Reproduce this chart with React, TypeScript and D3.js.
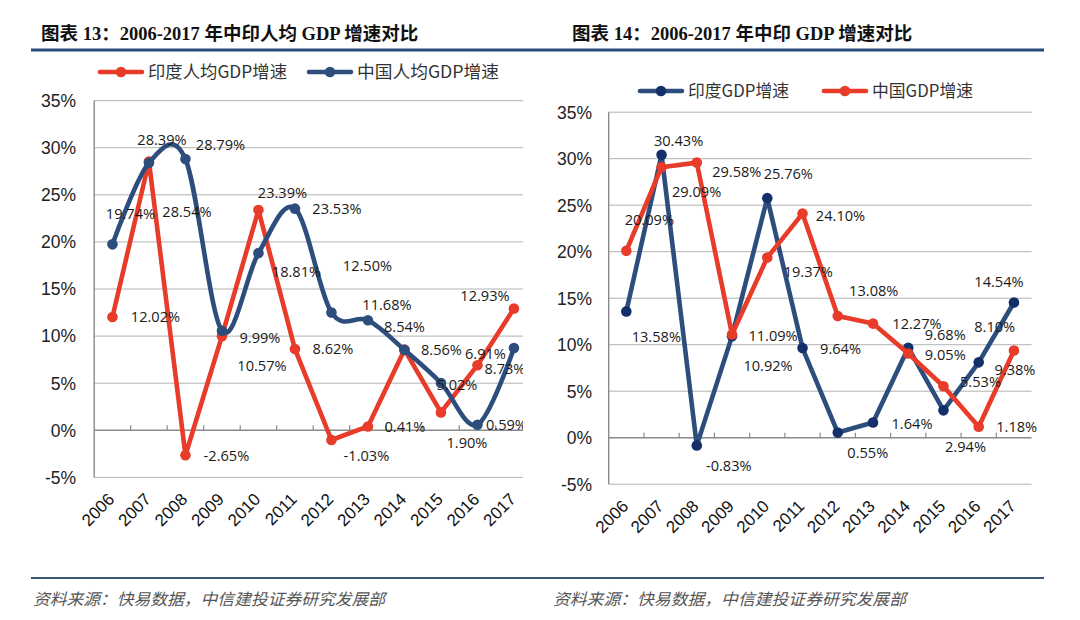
import * as d3 from "d3";
import { useEffect } from "react";

// categories
const years = ["2006", "2007", "2008", "2009", "2010", "2011", "2012", "2013", "2014", "2015", "2016", "2017"];
const yTicks = [35, 30, 25, 20, 15, 10, 5, 0, -5];

// chart 13: per capita GDP growth (%)
const indiaPerCapita = [12.02, 28.54, -2.65, 9.99, 23.39, 8.62, -1.03, 0.41, 8.56, 1.9, 6.91, 12.93];
const chinaPerCapita = [19.74, 28.39, 28.79, 10.57, 18.81, 23.53, 12.5, 11.68, 8.54, 5.02, 0.59, 8.73];

// chart 14: GDP growth (%)
const indiaGdp = [13.58, 30.43, -0.83, 10.92, 25.76, 9.64, 0.55, 1.64, 9.68, 2.94, 8.1, 14.54];
const chinaGdp = [20.09, 29.09, 29.58, 11.09, 19.37, 24.1, 13.08, 12.27, 9.05, 5.53, 1.18, 9.38];

// data label offsets (px) relative to each point, as placed in the original
const offIndiaPC: [number, number][] = [[43, 0], [38, 50], [41, 0], [38, 2], [24, -17], [38, 0], [35, 16], [37, 0], [37, 0], [26, 30], [8, -11], [-29, -13]];
const offChinaPC: [number, number][] = [[18, -31], [13, -23], [35, -14], [40, 35], [38, 19], [42, 0], [36, -47], [19, -16], [0, -23], [16, 2], [29, 0], [-9, 21]];
const offIndiaGdp: [number, number][] = [[30, 25], [17, -14], [32, 20], [36, 30], [21, -24], [38, 1], [30, 20], [39, 1], [37, -13], [22, 36], [16, -36], [-15, -21]];
const offChinaGdp: [number, number][] = [[23, -31], [35, 25], [40, 9], [41, 1], [41, 14], [38, 2], [36, -25], [44, 0], [37, 1], [37, -5], [38, 0], [1, 19]];

const RED = "#e83b2a";
const BLUE = "#2d4e7d";
const NAVY = "#14306b";
const SOURCE = "资料来源：快易数据，中信建投证券研究发展部";

interface Series {
  values: number[];
  color: string;
  marker: string;
  smooth: boolean;
  offsets: [number, number][];
}

interface PanelProps {
  x0: number;
  band: number;
  top: number;
  bottom: number;
  clipRight: number;
  labelRight: number;
  series: Series[];
  id: string;
}

function Panel({ x0, band, top, bottom, clipRight, labelRight, series, id }: PanelProps) {
  const x = d3.scaleBand().domain(years).range([x0, x0 + band * years.length]);
  const y = d3.scaleLinear().domain([-5, 35]).range([bottom, top]);
  const cx = (i: number) => (x(years[i]) as number) + x.bandwidth() / 2;
  const right = Math.min(clipRight, x0 + band * years.length);

  return (
    <g>
      <defs>
        <clipPath id={id}>
          <rect x={0} y={0} width={clipRight} height={620} />
        </clipPath>
      </defs>
      {yTicks.map((t) => (
        <g key={t}>
          <line x1={x0} x2={right} y1={y(t)} y2={y(t)} stroke={t === 0 ? "#8a8a8a" : "#b3b3b3"} strokeWidth={t === 0 ? 1.4 : 1} />
          <text x={labelRight} y={y(t)} dy="0.36em" textAnchor="end" fontFamily="'Liberation Sans', Arial" fontSize={17.5} fill="#222">
            {t}%
          </text>
        </g>
      ))}
      <line x1={x0} x2={x0} y1={top} y2={bottom} stroke="#8a8a8a" strokeWidth={1.4} />
      {years.slice(1).map((yr) => (
        <line key={yr} x1={x(yr)} x2={x(yr)} y1={y(0)} y2={y(0) - 5} stroke="#8a8a8a" strokeWidth={1.2} />
      ))}
      {years.map((yr, i) => (
        <text
          key={yr}
          transform={`translate(${cx(i) + 3},${bottom + 23}) rotate(-45)`}
          textAnchor="end"
          fontFamily="'Liberation Sans', Arial"
          fontSize={17}
          fill="#111"
        >
          {yr}
        </text>
      ))}
      <g clipPath={`url(#${id})`}>
        {series.map((s, k) => {
          const line = d3
            .line<number>()
            .x((_, i) => cx(i))
            .y((v) => y(v))
            .curve(s.smooth ? d3.curveCardinal.tension(0) : d3.curveLinear);
          return (
            <g key={k}>
              <path d={line(s.values) || ""} fill="none" stroke={s.color} strokeWidth={4.6} strokeLinejoin="round" />
              {s.values.map((v, i) => (
                <circle key={i} cx={cx(i)} cy={y(v)} r={5.3} fill={s.marker} />
              ))}
            </g>
          );
        })}
        {series.map((s, k) =>
          s.values.map((v, i) => (
            <text
              key={`${k}-${i}`}
              x={cx(i) + s.offsets[i][0]}
              y={y(v) + s.offsets[i][1]}
              dy="0.36em"
              textAnchor="middle"
              fontFamily="'Open Sans', sans-serif"
              fontSize={14.6}
              fill="#1a1a1a"
            >
              {v.toFixed(2)}%
            </text>
          ))
        )}
      </g>
    </g>
  );
}

function Legend({ x, y, color, marker, label, width }: { x: number; y: number; color: string; marker: string; label: string; width: number }) {
  return (
    <g>
      <line x1={x} x2={x + 42} y1={y} y2={y} stroke={color} strokeWidth={4.6} strokeLinecap="round" />
      <circle cx={x + 21} cy={y} r={5.3} fill={marker} />
      <text x={x + 48} y={y} dy="0.36em" fontFamily="'Noto Sans CJK SC', sans-serif" fontSize={17} fill="#333" textLength={width} lengthAdjust="spacingAndGlyphs">
        {label}
      </text>
    </g>
  );
}

export default function App() {
  useEffect(() => {
    document.body.style.margin = "0";
  }, []);

  const titleFont = "'Liberation Serif', 'Noto Sans CJK SC', serif";

  return (
    <svg width={1080} height={620} style={{ display: "block", background: "#fff" }}>
      <rect width={1080} height={620} fill="#fff" />
      <text x={41} y={33} dy="0.36em" fontFamily={titleFont} fontWeight="bold" fontSize={18.5} fill="#111">
        图表 13：2006-2017 年中印人均 GDP 增速对比
      </text>
      <text x={572} y={33} dy="0.36em" fontFamily={titleFont} fontWeight="bold" fontSize={18.5} fill="#111">
        图表 14：2006-2017 年中印 GDP 增速对比
      </text>
      <line x1={31} x2={1044} y1={50} y2={50} stroke="#264a7a" strokeWidth={3} />

      <Legend x={100} y={72} color={RED} marker={RED} label="印度人均GDP增速" width={139} />
      <Legend x={309} y={72} color={BLUE} marker={BLUE} label="中国人均GDP增速" width={142} />
      <Legend x={640} y={91} color={BLUE} marker={NAVY} label="印度GDP增速" width={101} />
      <Legend x={824} y={91} color={RED} marker={RED} label="中国GDP增速" width={101} />

      <Panel
        id="clipL"
        x0={94.2}
        band={36.5}
        top={100.6}
        bottom={477.4}
        clipRight={523}
        labelRight={76}
        series={[
          { values: indiaPerCapita, color: RED, marker: RED, smooth: false, offsets: offIndiaPC },
          { values: chinaPerCapita, color: BLUE, marker: BLUE, smooth: true, offsets: offChinaPC },
        ]}
      />
      <Panel
        id="clipR"
        x0={608.7}
        band={35.24}
        top={112.2}
        bottom={484.2}
        clipRight={1080}
        labelRight={592}
        series={[
          { values: indiaGdp, color: BLUE, marker: NAVY, smooth: false, offsets: offIndiaGdp },
          { values: chinaGdp, color: RED, marker: RED, smooth: false, offsets: offChinaGdp },
        ]}
      />

      <line x1={31} x2={1044} y1={578} y2={578} stroke="#3d5674" strokeWidth={2.2} />
      <text x={33} y={599} dy="0.36em" fontFamily="'Noto Sans CJK SC', sans-serif" fontStyle="italic" fontSize={16} fill="#555" textLength={352} lengthAdjust="spacingAndGlyphs">
        {SOURCE}
      </text>
      <text x={553} y={599} dy="0.36em" fontFamily="'Noto Sans CJK SC', sans-serif" fontStyle="italic" fontSize={16} fill="#555" textLength={353} lengthAdjust="spacingAndGlyphs">
        {SOURCE}
      </text>
    </svg>
  );
}
